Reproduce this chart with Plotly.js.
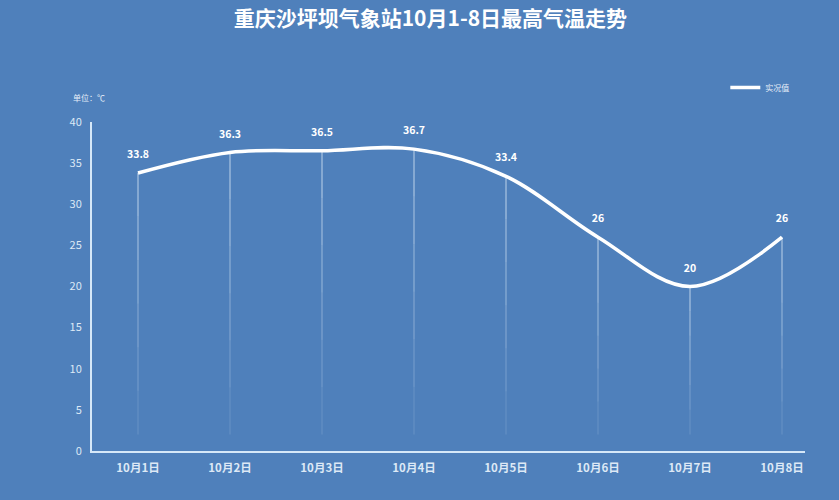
<!DOCTYPE html>
<html>
<head>
<meta charset="utf-8">
<script src="https://cdn.plot.ly/plotly-3.0.1.min.js"></script>
<style>
  html, body { margin: 0; padding: 0; background: #4f80bb; }
  #chart { width: 839px; height: 500px; }
</style>
</head>
<body>
<div id="chart"></div>
<script>
var days = ['10月1日', '10月2日', '10月3日', '10月4日', '10月5日', '10月6日', '10月7日', '10月8日'];
var maxTemp = [33.8, 36.3, 36.5, 36.7, 33.4, 26, 20, 26];
var yTicks = [0, 5, 10, 15, 20, 25, 30, 35, 40];

var font = '"Noto Sans CJK SC", "Noto Sans", sans-serif';
var bg = '#4f80bb';

// fading drop lines from each point down toward the axis
var shapes = [];
var steps = 6;
maxTemp.forEach(function(v, i) {
  for (var s = 0; s < steps; s++) {
    var top = v - (v - 2) * s / steps;
    var bot = v - (v - 2) * (s + 1) / steps;
    shapes.push({
      type: 'line', xref: 'x', yref: 'y',
      x0: i, x1: i, y0: top, y1: bot,
      line: {color: 'rgba(225,238,250,' + (0.75 - 0.7 * s / steps).toFixed(2) + ')', width: 1},
      layer: 'below'
    });
  }
});

var trace = {
  x: days.map(function(_, i) { return i; }),
  y: maxTemp,
  mode: 'lines+markers+text',
  name: '实况值',
  line: {color: '#ffffff', width: 3.5, shape: 'spline', smoothing: 1},
  marker: {size: 18, color: 'rgba(0,0,0,0)'},
  text: maxTemp.map(String),
  textposition: 'top center',
  textfont: {family: font, size: 10.5, color: '#ffffff', weight: 'bold'},
  hoverinfo: 'skip',
  cliponaxis: false
};

var layout = {
  width: 839, height: 500,
  paper_bgcolor: bg, plot_bgcolor: bg,
  margin: {l: 92, r: 34, t: 122, b: 49},
  title: {
    text: '<b>重庆沙坪坝气象站10月1-8日最高气温走势</b>',
    font: {family: font, size: 21, color: '#ffffff'},
    x: 0.513, xanchor: 'center', y: 0.962, yanchor: 'middle'
  },
  xaxis: {
    range: [-0.5, 7.25],
    tickvals: days.map(function(_, i) { return i; }),
    ticktext: days,
    showgrid: false, zeroline: false,
    showline: true, linecolor: '#d6e8f8', linewidth: 2,
    ticks: '', ticklabelstandoff: 5,
    tickfont: {family: font, size: 11.5, color: '#dde9f6', weight: 'bold'}
  },
  yaxis: {
    range: [0, 40],
    tickvals: yTicks,
    showgrid: false, zeroline: false,
    showline: true, linecolor: '#d6e8f8', linewidth: 2,
    ticks: '', ticklabelstandoff: 6,
    tickfont: {family: font, size: 11, color: '#dde9f6'}
  },
  showlegend: true,
  legend: {
    x: 0.985, xanchor: 'right', y: 1.105, yanchor: 'middle',
    bgcolor: 'rgba(0,0,0,0)',
    font: {family: font, size: 8, color: '#e6eef8'},
    itemwidth: 30
  },
  shapes: shapes,
  annotations: [{
    text: '单位：℃', xref: 'paper', yref: 'paper',
    x: -0.03, y: 1.075, xanchor: 'left', yanchor: 'middle',
    showarrow: false,
    font: {family: font, size: 8, color: '#e6eef8'}
  }]
};

Plotly.newPlot('chart', [trace], layout, {staticPlot: true});
</script>
</body>
</html>
